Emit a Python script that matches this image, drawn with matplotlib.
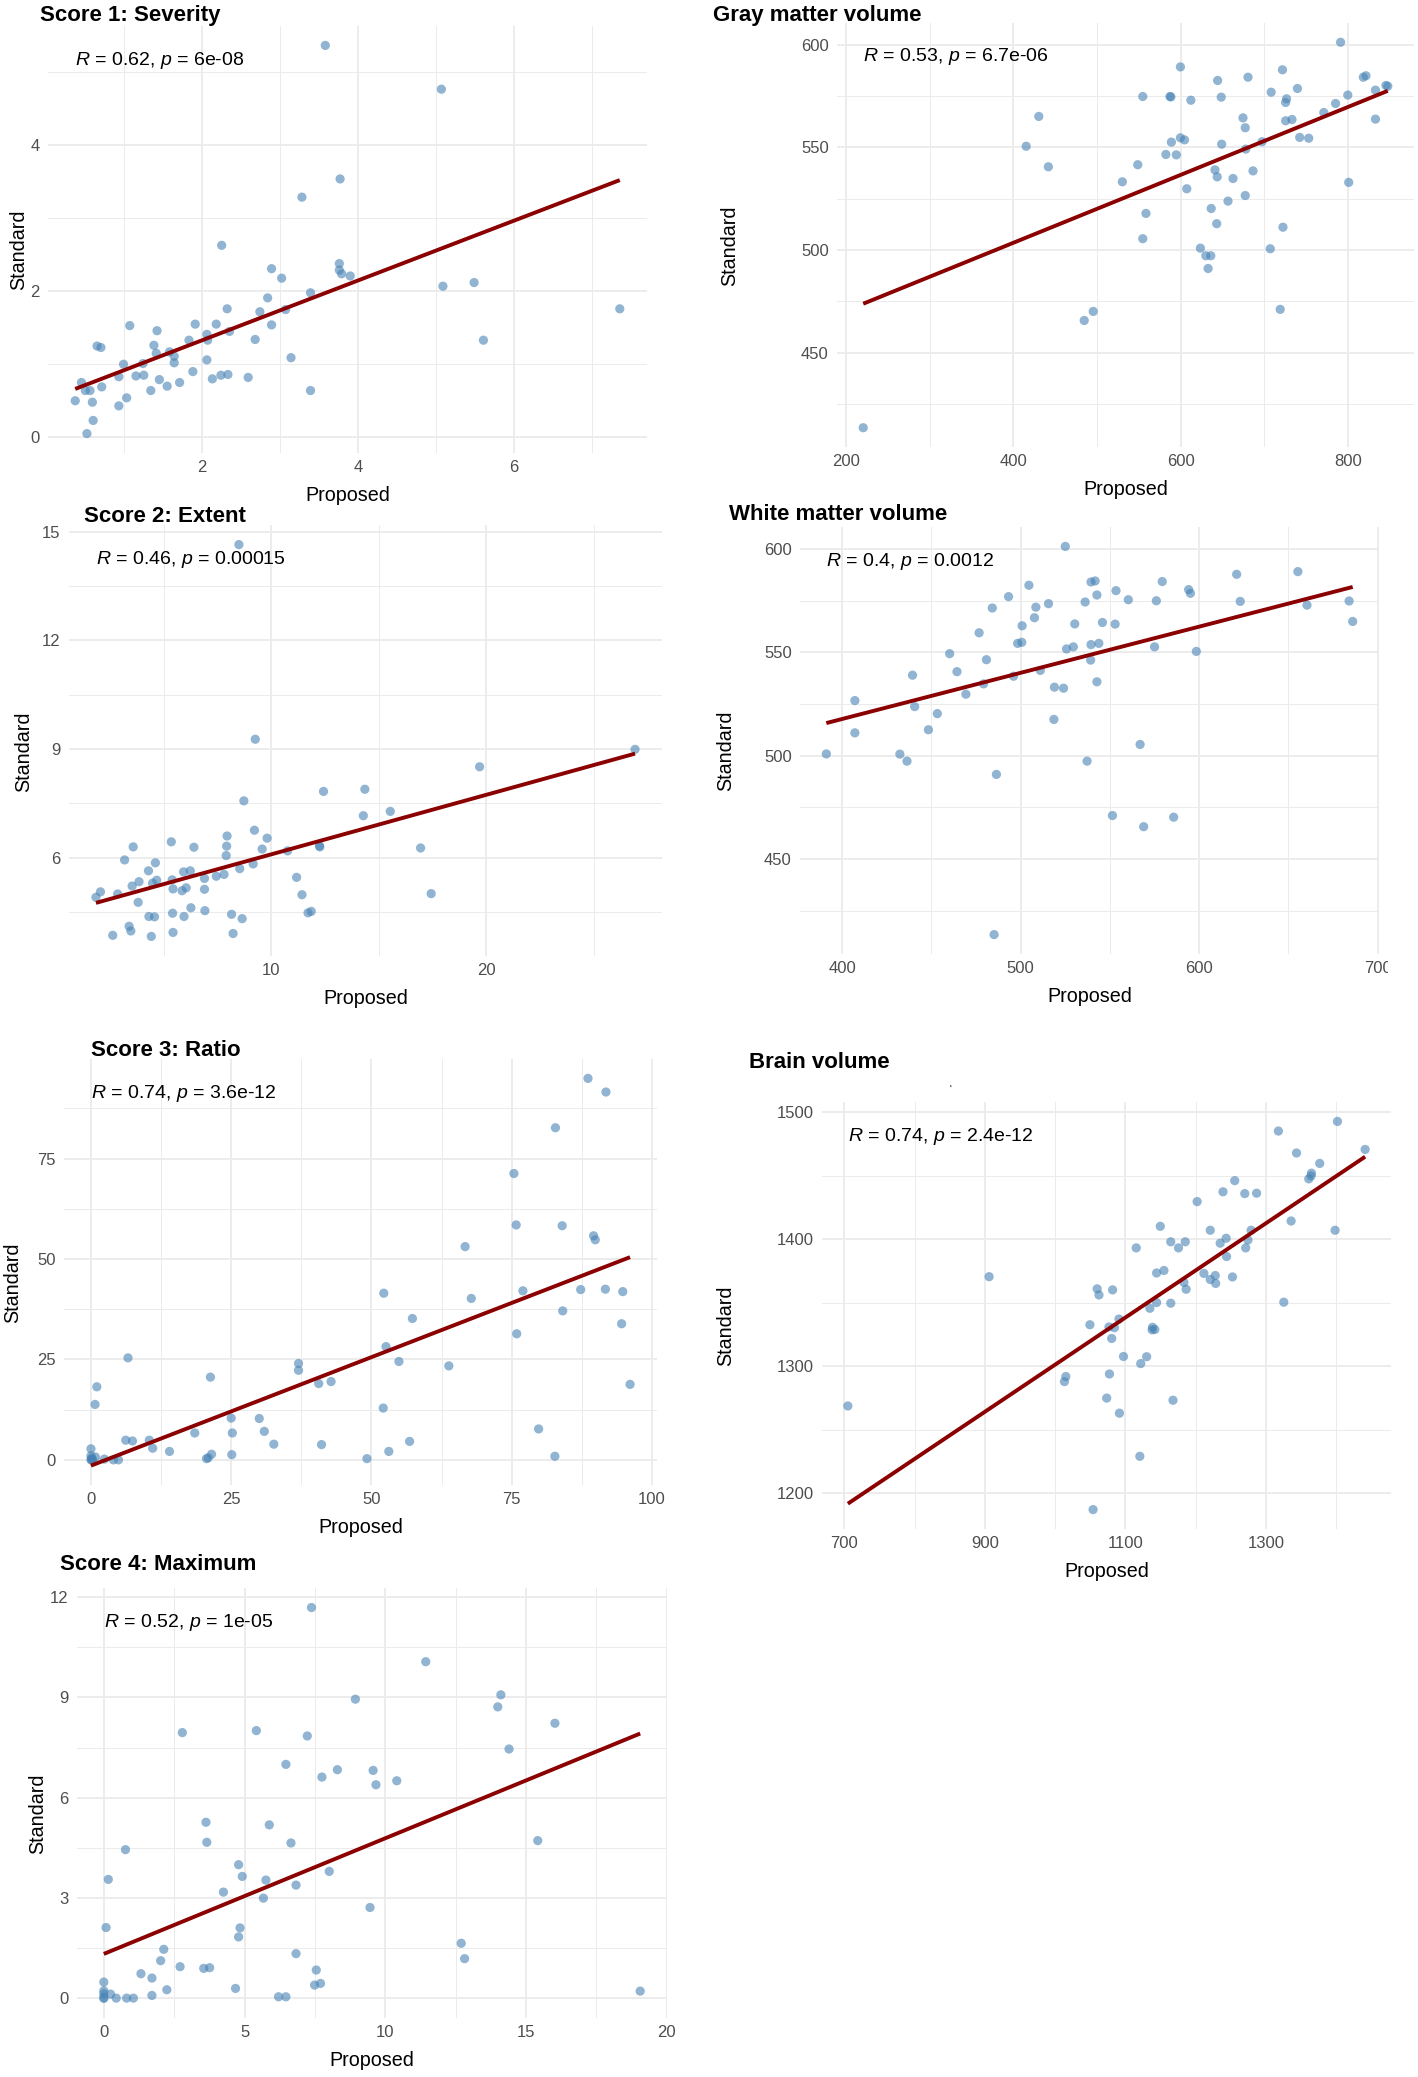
import numpy as np
import matplotlib
matplotlib.use("Agg")
import matplotlib.pyplot as plt
from matplotlib.transforms import blended_transform_factory, Bbox, TransformedBbox

plt.rcParams['font.family'] = ['Liberation Sans', 'DejaVu Sans']
plt.rcParams['mathtext.fontset'] = 'custom'
plt.rcParams['mathtext.rm'] = 'Liberation Sans'
plt.rcParams['mathtext.it'] = 'Liberation Sans:italic'

# ---- data ----
sev_x = [3.58, 5.07, 3.77, 3.28, 2.25, 2.89, 3.76, 3.76, 3.79, 3.90, 3.02, 5.09, 5.49,
         3.39, 2.84, 2.32, 2.74, 3.07, 7.36, 1.91, 2.18, 2.89, 1.07, 1.42, 2.06, 2.35,
         2.07, 1.83, 2.68, 5.61, 0.65, 0.70, 1.38, 1.41, 1.58, 1.64, 1.64, 2.06, 3.14,
         0.99, 1.24, 0.93, 1.15, 1.25, 1.88, 2.24, 2.33, 2.59, 1.45, 2.13, 1.71, 1.55,
         1.34, 3.39, 0.45, 0.50, 0.56, 0.71, 0.37, 0.59, 1.03, 0.93, 0.60, 0.52]
sev_y = [5.36, 4.76, 3.53, 3.28, 2.62, 2.30, 2.37, 2.28, 2.23, 2.20, 2.17, 2.06, 2.11,
         1.97, 1.90, 1.75, 1.71, 1.74, 1.75, 1.54, 1.54, 1.53, 1.52, 1.45, 1.40, 1.44,
         1.32, 1.32, 1.33, 1.32, 1.24, 1.22, 1.25, 1.14, 1.16, 1.10, 1.01, 1.05, 1.08,
         0.99, 1.00, 0.82, 0.83, 0.84, 0.89, 0.84, 0.85, 0.81, 0.78, 0.79, 0.74, 0.69,
         0.63, 0.63, 0.74, 0.63, 0.63, 0.68, 0.49, 0.47, 0.53, 0.42, 0.22, 0.04]

gm_x = [220.6, 791.3, 599.8, 721.8, 644.3, 680.6, 818.4, 821.6, 554.8, 587.3, 588.4,
        612.3, 648.6, 708.3, 726.7, 725.6, 739.7, 799.9, 833.0, 845.5, 847.7, 785.3,
        771.2, 430.5, 674.6, 677.3, 725.6, 733.2, 833.0, 742.4, 753.2, 415.4, 599.8,
        604.7, 589.0, 649.1, 697.4, 677.9, 582.4, 594.9, 548.8, 441.9, 641.1, 686.6,
        643.8, 662.7, 530.4, 801.0, 607.4, 677.3, 656.7, 636.6, 558.6, 643.2, 722.4,
        554.8, 623.7, 707.2, 630.2, 636.1, 632.9, 495.6, 484.8, 719.1]
gm_y = [413.5, 601.1, 589.1, 587.7, 582.5, 584.1, 584.1, 584.8, 574.7, 574.7, 574.5,
        572.9, 574.4, 576.8, 573.6, 571.8, 578.6, 575.4, 577.8, 580.1, 579.7, 571.3,
        566.9, 565.0, 564.3, 559.5, 562.9, 563.5, 563.7, 554.8, 554.4, 550.5, 554.6,
        553.6, 552.5, 551.5, 552.7, 549.1, 546.5, 546.3, 541.5, 540.5, 539.0, 538.5,
        535.6, 534.8, 533.2, 532.9, 529.8, 526.5, 523.8, 520.2, 517.8, 512.8, 511.1,
        505.5, 500.9, 500.6, 497.2, 497.2, 491.0, 470.1, 465.7, 471.1]

ext_x = [8.50, 9.26, 26.9, 19.68, 12.43, 14.35, 8.73, 14.28, 15.53, 9.22, 7.95, 9.81,
         5.36, 3.59, 6.41, 7.93, 9.58, 10.76, 12.24, 12.26, 16.94, 7.91, 3.19, 4.62,
         4.30, 5.93, 6.24, 8.54, 9.16, 4.68, 4.49, 3.86, 3.54, 5.40, 6.90, 7.45, 7.81,
         11.18, 2.07, 1.86, 2.87, 5.44, 6.05, 5.86, 6.90, 11.43, 17.43, 3.82, 6.27,
         6.92, 5.42, 4.32, 4.58, 5.95, 8.16, 8.65, 11.71, 11.86, 3.40, 3.48, 2.64, 4.43,
         5.44, 8.23]
ext_y = [14.64, 9.27, 8.99, 8.51, 7.83, 7.89, 7.57, 7.16, 7.28, 6.76, 6.60, 6.54, 6.44,
         6.30, 6.29, 6.32, 6.24, 6.19, 6.33, 6.30, 6.27, 6.06, 5.94, 5.86, 5.64, 5.61,
         5.64, 5.70, 5.83, 5.38, 5.30, 5.34, 5.22, 5.39, 5.43, 5.49, 5.54, 5.46, 5.06,
         4.91, 5.00, 5.14, 5.17, 5.09, 5.13, 4.98, 5.01, 4.77, 4.62, 4.54, 4.47, 4.38,
         4.37, 4.38, 4.44, 4.32, 4.48, 4.52, 4.11, 3.98, 3.86, 3.83, 3.94, 3.91]

wm_x = [525.0, 621.0, 655.3, 504.6, 539.4, 541.7, 579.3, 493.2, 542.7, 553.4, 594.1,
        595.1, 560.3, 576.0, 623.0, 684.0, 660.4, 536.1, 515.6, 508.5, 484.1, 507.7,
        500.8, 530.3, 545.8, 552.9, 686.0, 476.7, 498.3, 500.6, 539.4, 543.8, 525.7,
        529.5, 575.0, 598.4, 460.2, 480.8, 539.2, 464.3, 439.4, 511.0, 496.0, 479.2,
        542.7, 469.3, 518.9, 524.0, 407.1, 440.6, 453.3, 518.6, 448.3, 407.1, 391.1,
        432.3, 436.3, 566.9, 537.2, 486.4, 551.4, 568.9, 585.7, 485.1]
wm_y = [601.3, 587.8, 589.1, 582.5, 584.1, 584.6, 584.3, 577.0, 577.8, 579.9, 580.4,
        578.6, 575.5, 575.0, 574.7, 574.9, 572.9, 574.4, 573.6, 571.9, 571.5, 566.8,
        562.9, 563.8, 564.5, 563.7, 565.0, 559.5, 554.4, 554.9, 553.8, 554.4, 551.7,
        552.7, 552.7, 550.5, 549.4, 546.5, 546.3, 540.7, 539.0, 541.3, 538.5, 534.8,
        535.8, 529.8, 533.2, 532.7, 526.7, 523.8, 520.4, 517.6, 512.6, 511.1, 500.9,
        500.8, 497.4, 505.5, 497.4, 491.0, 471.1, 465.7, 470.3, 413.5]

ratio_x = [88.6, 91.8, 82.8, 75.4, 75.8, 84.0, 66.7, 89.6, 89.9, 52.2, 77.0, 87.3, 91.7,
           94.8, 67.8, 84.1, 57.3, 94.6, 75.9, 52.6, 54.9, 63.8, 6.6, 37.0, 37.0, 40.6,
           42.8, 21.3, 96.1, 1.05, 0.73, 52.1, 25.0, 30.0, 30.9, 25.2, 18.5, 79.8, 6.2,
           7.4, 10.4, 11.0, 32.6, 41.1, 56.8, 14.0, 53.1, 25.1, 21.5, 20.9, 20.6, 82.7,
           49.2, 0.0, 0.0, 0.1, 0.15, 0.8, 2.4, 4.0, 4.9, 0.0, 0.3]
ratio_y = [95.0, 91.6, 82.7, 71.3, 58.5, 58.3, 53.1, 55.8, 54.8, 41.5, 42.1, 42.4, 42.5,
           41.9, 40.2, 37.1, 35.2, 33.9, 31.4, 28.2, 24.5, 23.4, 25.4, 24.0, 22.3, 19.0,
           19.5, 20.6, 18.8, 18.2, 13.8, 12.9, 10.4, 10.3, 7.1, 6.7, 6.7, 7.7, 4.9, 4.7,
           4.9, 2.9, 3.9, 3.8, 4.6, 2.1, 2.1, 1.3, 1.4, 0.5, 0.3, 0.9, 0.3, 2.75, 1.0,
           0.4, 0.0, 0.7, 0.2, 0.0, 0.0, 0.0, 0.1]

brain_x = [1401.6, 1317.6, 1441.0, 1343.4, 1376.4, 1364.7, 1364.1, 1360.8, 1255.5,
           1238.8, 1269.8, 1286.6, 1202.0, 1335.7, 1149.6, 1220.7, 1278.8, 1398.3,
           1243.3, 1274.3, 1164.5, 1185.1, 1234.8, 1115.4, 1175.5, 1271.1, 1243.9,
           1154.8, 1144.4, 1211.6, 1227.8, 1252.3, 906.1, 1220.7, 1228.4, 1183.2,
           1059.8, 1081.8, 1186.4, 1062.4, 1144.4, 1164.5, 1325.3, 1134.8, 1090.8,
           1049.5, 1076.6, 1084.4, 1138.6, 1141.9, 1138.0, 1080.5, 1097.3, 1130.2,
           1121.8, 1015.2, 1013.3, 1077.3, 1073.4, 1167.7, 705.2, 1091.5, 1120.5, 1054.0]
brain_y = [1492.9, 1485.3, 1470.8, 1468.0, 1459.8, 1452.1, 1449.9, 1447.6, 1446.2,
           1437.4, 1436.0, 1436.3, 1429.7, 1414.4, 1410.2, 1407.1, 1407.1, 1407.1,
           1400.8, 1399.4, 1398.0, 1398.0, 1396.9, 1393.2, 1393.2, 1393.2, 1386.4,
           1375.4, 1373.4, 1373.1, 1371.4, 1370.3, 1370.5, 1368.3, 1365.2, 1366.0,
           1360.9, 1360.1, 1360.6, 1356.1, 1350.1, 1349.6, 1350.4, 1345.6, 1337.1,
           1332.6, 1330.9, 1330.3, 1330.6, 1328.9, 1328.6, 1321.8, 1307.6, 1307.4,
           1302.0, 1291.8, 1287.8, 1293.8, 1274.8, 1273.1, 1268.6, 1262.9, 1228.9, 1186.9]

max_x = [7.38, 11.44, 8.94, 14.11, 14.00, 16.03, 2.79, 5.42, 7.23, 14.40, 6.47, 8.30,
         7.75, 9.57, 9.67, 10.41, 3.63, 5.88, 3.66, 6.65, 15.42, 0.77, 4.79, 4.92, 8.01,
         5.76, 0.16, 6.83, 4.25, 5.67, 9.46, 0.08, 4.84, 4.79, 12.70, 12.82, 6.83, 2.13,
         2.02, 2.71, 3.55, 3.76, 1.32, 1.71, 7.55, 7.49, 7.70, 4.68, 2.24, 1.71, 19.06,
         0.0, 0.0, 0.0, 0.24, 0.0, 0.0, 0.44, 0.81, 1.05, 6.21, 6.47]
max_y = [11.69, 10.07, 8.95, 9.08, 8.72, 8.23, 7.95, 8.01, 7.85, 7.46, 7.00, 6.84, 6.62,
         6.82, 6.39, 6.51, 5.27, 5.19, 4.67, 4.65, 4.72, 4.45, 4.00, 3.65, 3.80, 3.54,
         3.56, 3.39, 3.18, 3.00, 2.72, 2.12, 2.11, 1.84, 1.65, 1.19, 1.34, 1.47, 1.13,
         0.95, 0.90, 0.92, 0.74, 0.61, 0.85, 0.40, 0.45, 0.30, 0.26, 0.09, 0.22, 0.49,
         0.23, 0.14, 0.13, 0.03, 0.0, 0.01, 0.01, 0.01, 0.05, 0.05]

titles = ["Score 1: Severity", "Gray matter volume", "Score 2: Extent",
          "White matter volume", "Score 3: Ratio", "Brain volume", "Score 4: Maximum"]
stats = [r"$R$ = 0.62, $p$ = 6e-08", r"$R$ = 0.53, $p$ = 6.7e-06",
         r"$R$ = 0.46, $p$ = 0.00015", r"$R$ = 0.4, $p$ = 0.0012",
         r"$R$ = 0.74, $p$ = 3.6e-12", r"$R$ = 0.74, $p$ = 2.4e-12",
         r"$R$ = 0.52, $p$ = 1e-05"]
xs = [sev_x, gm_x, ext_x, wm_x, ratio_x, brain_x, max_x]
ys = [sev_y, gm_y, ext_y, wm_y, ratio_y, brain_y, max_y]
x_major = [[2, 4, 6], [200, 400, 600, 800], [10, 20], [400, 500, 600, 700],
           [0, 25, 50, 75, 100], [700, 900, 1100, 1300], [0, 5, 10, 15, 20]]
x_minor = [[1, 3, 5, 7], [300, 500, 700], [5, 15, 25], [450, 550, 650],
           [12.5, 37.5, 62.5, 87.5], [800, 1000, 1200, 1400], [2.5, 7.5, 12.5, 17.5]]
y_major = [[0, 2, 4], [450, 500, 550, 600], [6, 9, 12, 15], [450, 500, 550, 600],
           [0, 25, 50, 75], [1200, 1300, 1400, 1500], [0, 3, 6, 9, 12]]
y_minor = [[1, 3, 5], [425, 475, 525, 575], [4.5, 7.5, 10.5, 13.5], [425, 475, 525, 575],
           [12.5, 37.5, 62.5, 87.5], [1250, 1350, 1450], [1.5, 4.5, 7.5, 10.5]]

# layout in pixels: panel (left, top, right, bottom), title (left, centre y), ylabel right edge
W, H = 1418, 2077
boxes = [(48, 26, 647, 453), (837, 23, 1414, 447), (69, 525, 662, 956),
         (800, 527, 1379, 954), (64, 1059, 657, 1485), (822, 1102, 1391, 1529),
         (77, 1588, 667, 2018)]
title_pos = [(40, 16), (713, 16), (84, 517), (729, 514), (91, 1050), (749, 1062), (60, 1564)]
ylab_right = [28, 739, 33, 735, 22, 735, 47]

fig = plt.figure(figsize=(W / 100, H / 100), dpi=100)
fig.patch.set_facecolor("white")

axes = []
for i in range(7):
    l, t, r, b = boxes[i]
    ax = fig.add_axes([l / W, 1 - b / H, (r - l) / W, (b - t) / H])
    x = np.array(xs[i])
    y = np.array(ys[i])
    ax.scatter(x, y, s=44, color="steelblue", alpha=0.6, edgecolors="none", zorder=3)
    k, c = np.polyfit(x, y, 1)
    xl = np.array([x.min(), x.max()])
    ax.plot(xl, k * xl + c, color="darkred", lw=2.8, zorder=4, solid_capstyle="butt")
    xlim, ylim = ax.get_xlim(), ax.get_ylim()
    ax.set_xticks(x_major[i])
    ax.set_xticks(x_minor[i], minor=True)
    ax.set_yticks(y_major[i])
    ax.set_yticks(y_minor[i], minor=True)
    ax.set_xlim(xlim)
    ax.set_ylim(ylim)
    ax.grid(which="major", color="#EBEBEB", lw=1.3)
    ax.grid(which="minor", color="#EBEBEB", lw=0.7)
    ax.set_axisbelow(True)
    for s in ax.spines.values():
        s.set_visible(False)
    ax.tick_params(which="both", length=0)
    ax.tick_params(axis="x", pad=5, labelsize=12, labelcolor="#4D4D4D")
    ax.tick_params(axis="y", pad=6, labelsize=12, labelcolor="#4D4D4D")
    ax.set_xlabel("Proposed", fontsize=14.2)
    ax.set_ylabel("Standard", fontsize=14.2)
    ax.xaxis.set_label_coords(0.5, -33 / (b - t))
    ax.yaxis.set_label_coords((ylab_right[i] - l) / (r - l), 0.475)
    tr = blended_transform_factory(ax.transData, ax.transAxes)
    ax.text(x.min(), 0.92, stats[i], transform=tr, ha="left", va="center", fontsize=14)
    tx, ty = title_pos[i]
    fig.text(tx / W, 1 - ty / H, titles[i], ha="left", va="center",
             fontsize=16, fontweight="bold")
    axes.append(ax)

# stray mark above the brain volume panel
fig.text(950 / W, 1 - 1090 / H, "'", ha="center", va="center", fontsize=7)

# the right-most tick label of the white matter panel is cut off in the source
fig.canvas.draw()
clip = TransformedBbox(Bbox([[0, 0], [1388 / W, 1]]), fig.transFigure)
for lbl in axes[3].get_xticklabels():
    lbl.set_clip_box(clip)
    lbl.set_clip_on(True)

fig.savefig("out.png", dpi=100, facecolor="white")
